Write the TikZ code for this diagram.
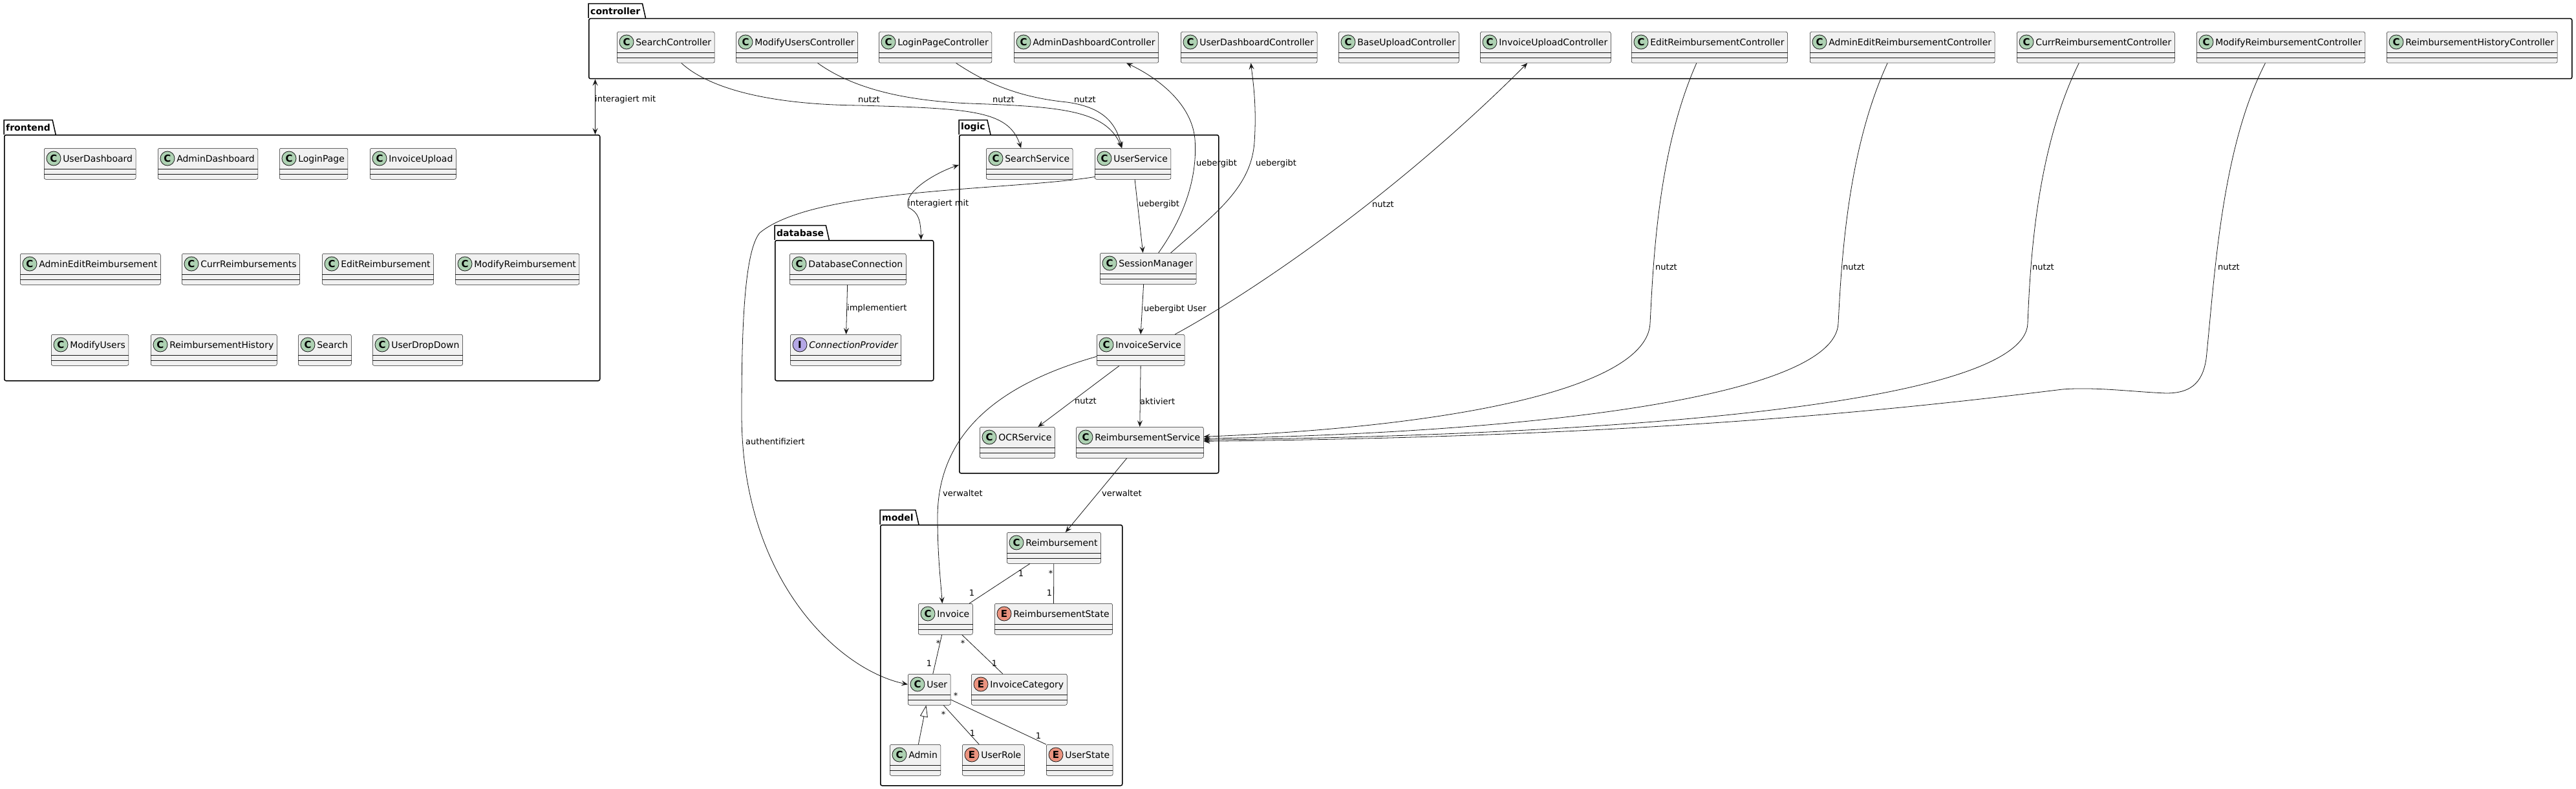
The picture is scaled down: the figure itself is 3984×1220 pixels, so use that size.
\documentclass[tikz,border=0pt]{standalone}
\usepackage{fontspec}
\setmainfont{DejaVu Sans}
\usetikzlibrary{arrows.meta}

\definecolor{clsfill}{HTML}{F1F1F1}
\definecolor{clsline}{HTML}{181818}
\definecolor{spotC}{HTML}{ADD1B2}
\definecolor{spotE}{HTML}{EB937F}
\definecolor{spotI}{HTML}{B4A7E5}

\tikzset{
  classbox/.style={draw=clsline, line width=0.5pt, fill=clsfill, rounded corners=2.5pt, anchor=north west,
    inner xsep=5pt, inner ysep=0pt, text height=21pt, text depth=27pt, font=\fontsize{14pt}{16pt}\selectfont},
  spot/.style={circle, draw=clsline, line width=0.8pt, minimum size=22pt, inner sep=0pt,
    font=\fontsize{15pt}{15pt}\selectfont\bfseries},
  pkgbody/.style={draw=black, line width=1.5pt, rounded corners=2.5pt, anchor=north west, inner sep=0pt},
  pkgtab/.style={anchor=south west, inner xsep=3pt, inner ysep=0pt, minimum height=22pt,
    font=\fontsize{14pt}{16pt}\selectfont\bfseries},
  lbl/.style={anchor=west, inner sep=0pt, font=\fontsize{13pt}{15pt}\selectfont},
  mult/.style={inner sep=0pt, font=\fontsize{13pt}{15pt}\selectfont},
  dep/.style={draw=clsline, line width=0.8pt, -{Stealth[length=10pt,width=8pt,inset=4pt]}},
  twoway/.style={draw=clsline, line width=0.8pt,
    {Stealth[length=10pt,width=8pt,inset=4pt]}-{Stealth[length=10pt,width=8pt,inset=4pt]}},
  assoc/.style={draw=clsline, line width=0.8pt},
  extends/.style={draw=clsline, line width=0.8pt, -{Triangle[length=18pt,width=12pt,fill=white]}}
}

% class box: name, x, y, text, spot colour, spot letter
\newcommand{\umlbox}[6]{%
  \node[classbox] (#1) at (#2,#3) {\hspace*{24pt}#4};
  \draw[clsline, line width=0.5pt] ([yshift=-32pt]#1.north west) -- ([yshift=-32pt]#1.north east)
    ([yshift=-40pt]#1.north west) -- ([yshift=-40pt]#1.north east);
  \node[spot, fill=#5] (#1Spot) at ([xshift=15pt,yshift=-16pt]#1.north west) {#6};
}
\newcommand{\umlclass}[4]{\umlbox{#1}{#2}{#3}{#4}{spotC}{C}}
\newcommand{\umlenum}[4]{\umlbox{#1}{#2}{#3}{#4}{spotE}{E}}
\newcommand{\umliface}[4]{\umlbox{#1}{#2}{#3}{\itshape #4}{spotI}{I}}

% package: name, x, y (body top), width, height, label
\newcommand{\umlpkg}[6]{%
  \node[pkgbody, minimum width=#4pt, minimum height=#5pt] (#1) at (#2,#3) {};
  \node[pkgtab] (#1Tab) at (#1.north west) {#6};
  \draw[black, line width=1.5pt] (#1.north west) |- (#1Tab.north east) -- ([xshift=5pt]#1Tab.south east);
}

\begin{document}
\begin{tikzpicture}[x=1pt, y=-1pt]
  \useasboundingbox (0,0) rectangle (3984,1220);

  % packages
  \umlpkg{controller}{910}{28}{3067}{93}{controller}
  \umlpkg{frontend}{6}{208}{921}{380}{frontend}
  \umlpkg{logic}{1483}{208}{401}{523}{logic}
  \umlpkg{database}{1198}{371}{245}{217}{database}
  \umlpkg{model}{1361}{811}{374}{403}{model}

  % controller
  \umlclass{SearchC}{954}{49}{SearchController}
  \umlclass{ModUsersC}{1138}{49}{ModifyUsersController}
  \umlclass{LoginC}{1359}{49}{LoginPageController}
  \umlclass{AdminDashC}{1568}{49}{AdminDashboardController}
  \umlclass{UserDashC}{1826}{49}{UserDashboardController}
  \umlclass{BaseUpC}{2070}{49}{BaseUploadController}
  \umlclass{InvUpC}{2289}{49}{InvoiceUploadController}
  \umlclass{EditRC}{2523}{49}{EditReimbursementController}
  \umlclass{AdminEditRC}{2799}{49}{AdminEditReimbursementController}
  \umlclass{CurrRC}{3119}{49}{CurrReimbursementController}
  \umlclass{ModRC}{3397}{49}{ModifyReimbursementController}
  \umlclass{HistRC}{3691}{49}{ReimbursementHistoryController}

  % frontend
  \umlclass{UserDash}{68}{229}{UserDashboard}
  \umlclass{AdminDash}{244}{229}{AdminDashboard}
  \umlclass{LoginP}{432}{229}{LoginPage}
  \umlclass{InvUp}{572}{229}{InvoiceUpload}
  \umlclass{AdminEditR}{31}{392}{AdminEditReimbursement}
  \umlclass{CurrR}{281}{392}{CurrReimbursements}
  \umlclass{EditR}{498}{392}{EditReimbursement}
  \umlclass{ModR}{704}{392}{ModifyReimbursement}
  \umlclass{ModUsers}{79}{517}{ModifyUsers}
  \umlclass{HistR}{233}{517}{ReimbursementHistory}
  \umlclass{SearchF}{461}{517}{Search}
  \umlclass{UserDrop}{576}{517}{UserDropDown}

  % logic
  \umlclass{SearchS}{1525}{229}{SearchService}
  \umlclass{UserS}{1693}{229}{UserService}
  \umlclass{SessionM}{1701}{391}{SessionManager}
  \umlclass{InvoiceS}{1696}{517}{InvoiceService}
  \umlclass{OCRS}{1515}{660}{OCRService}
  \umlclass{ReimbS}{1664}{660}{ReimbursementService}

  % database
  \umlclass{DBConn}{1221}{392}{DatabaseConnection}
  \umliface{ConnProv}{1222}{517}{ConnectionProvider}

  % model
  \umlclass{Reimb}{1557}{823}{Reimbursement}
  \umlclass{Invoice}{1420}{933}{Invoice}
  \umlenum{ReimbState}{1538}{933}{ReimbursementState}
  \umlclass{User}{1404}{1042}{User}
  \umlenum{InvCat}{1502}{1042}{InvoiceCategory}
  \umlclass{Admin}{1376}{1151}{Admin}
  \umlenum{UserRole}{1488}{1151}{UserRole}
  \umlenum{UserState}{1618}{1151}{UserState}

  % controller <-> frontend
  \coordinate (feLink) at ([xshift=-8pt]frontend.north east);
  \draw[twoway] (feLink |- controller.south) -- (feLink);
  \node[lbl] (lblFe) at (920,154) {interagiert mit};

  % controller -> logic
  \draw[dep] ([xshift=24pt]SearchC.south) .. controls (1100,140) and (1200,162) .. (1330,163)
    .. controls (1500,168) and (1560,170) .. ([xshift=-13pt]SearchS.north);
  \draw[dep] ([xshift=32pt]ModUsersC.south) .. controls (1310,130) and (1380,155) .. (1500,160)
    .. controls (1640,165) and (1710,170) .. ([xshift=-17pt]UserS.north);
  \draw[dep] ([xshift=32pt]LoginC.south) .. controls (1520,125) and (1570,150) .. (1650,158)
    .. controls (1700,165) and (1725,185) .. ([xshift=-17pt]UserS.north);
  \node[lbl] (lblSearch) at (1327,154) {nutzt};
  \node[lbl] (lblModUsers) at (1535,154) {nutzt};
  \node[lbl] (lblLogin) at (1661,154) {nutzt};

  % logic -> controller
  \draw[dep] ([xshift=16pt]SessionM.north) .. controls (1835,330) and (1852,270) .. (1848,215)
    .. controls (1843,160) and (1790,120) .. ([xshift=62pt]AdminDashC.south);
  \draw[dep] ([xshift=35pt]SessionM.north) .. controls (1880,330) and (1935,290) .. (1940,220)
    .. controls (1944,160) and (1937,120) .. ([xshift=3pt]UserDashC.south);
  \draw[dep] ([xshift=53pt]InvoiceS.north) .. controls (1940,450) and (2160,300) .. ([xshift=-28pt]InvUpC.south);
  \node[lbl] (lblAdminDash) at (1850,253) {uebergibt};
  \node[lbl] (lblUserDash) at (1942,253) {uebergibt};
  \node[lbl] (lblInvUp) at (2122,316) {nutzt};

  % reimbursement controllers -> ReimbursementService
  \draw[dep] ([xshift=-20pt]EditRC.south) .. controls (2565,230) and (2557,400) .. (2552,500)
    .. controls (2547,600) and (2250,660) .. ([yshift=9pt]ReimbS.east);
  \draw[dep] ([xshift=-23pt]AdminEditRC.south) .. controls (2858,230) and (2848,400) .. (2843,500)
    .. controls (2838,610) and (2400,668) .. ([yshift=6pt]ReimbS.east);
  \draw[dep] ([xshift=-26pt]CurrRC.south) .. controls (3150,230) and (3140,400) .. (3136,500)
    .. controls (3132,620) and (2550,672) .. ([yshift=4pt]ReimbS.east);
  \draw[dep] ([xshift=-24pt]ModRC.south) .. controls (3435,230) and (3425,430) .. (3412,555)
    .. controls (3406,595) and (3385,608) .. (3350,608)
    .. controls (3300,606) and (3240,598) .. (3190,602)
    .. controls (3000,625) and (2600,675) .. ([yshift=2pt]ReimbS.east);
  \node[lbl] (lblEditR) at (2560,413) {nutzt};
  \node[lbl] (lblAdminEditR) at (2850,413) {nutzt};
  \node[lbl] (lblCurrR) at (3143,413) {nutzt};
  \node[lbl] (lblModR) at (3430,413) {nutzt};

  % inside logic
  \draw[dep] ([xshift=3pt]UserS.south) -- ([xshift=-8pt]SessionM.north);
  \draw[dep] ([xshift=-7pt]SessionM.south) -- (InvoiceS.north);
  \draw[dep] ([xshift=-33pt]InvoiceS.south) -- ([xshift=32pt]OCRS.north);
  \draw[dep] (InvoiceS.south) -- (ReimbS.north);
  \node[lbl] (lblSession) at (1761,316) {uebergibt};
  \node[lbl] (lblInvS) at (1769,478) {uebergibt User};
  \node[lbl] (lblOCR) at (1662,620) {nutzt};
  \node[lbl] (lblReimbS) at (1763,621) {aktiviert};

  % logic <-> database
  \draw[twoway] ([yshift=-47pt]logic.north west) .. controls (1440,270) and (1395,300) .. (1405,321)
    .. controls (1420,328) and (1424,340) .. ([xshift=-20pt]database.north east);
  \node[lbl] (lblDb) at (1404,315) {interagiert mit};
  \draw[dep] (DBConn) -- (ConnProv);
  \node[lbl] (lblImpl) at (1310,477) {implementiert};

  % logic -> model
  \draw[dep] ([yshift=4pt]UserS.south west) .. controls (1560,295) and (1260,290) .. (1175,360)
    .. controls (1150,390) and (1147,520) .. (1147,640)
    .. controls (1147,900) and (1300,1037) .. ([yshift=8pt]User.west);
  \node[lbl] (lblAuth) at (1153,683) {authentifiziert};
  \draw[dep] ([yshift=-10pt]InvoiceS.west) .. controls (1560,590) and (1450,660) .. (1450,800)
    .. controls (1450,860) and (1455,900) .. ([xshift=-5pt]Invoice.north);
  \node[lbl] (lblInvoice) at (1458,763) {verwaltet};
  \draw[dep] ([xshift=-20pt]ReimbS.south) -- ([xshift=18pt]Reimb.north);
  \node[lbl] (lblReimb) at (1704,763) {verwaltet};

  % model associations
  \draw[assoc] (Reimb) -- (Invoice);
  \draw[assoc] (Reimb) -- (ReimbState);
  \draw[assoc] (Invoice) -- (User);
  \draw[assoc] (Invoice) -- (InvCat);
  \draw[assoc] (User) -- (UserRole);
  \draw[assoc] (User) -- (UserState);
  \draw[extends] (Admin) -- (User);
  \node[mult] (mReimbInv) at (1579,887) {1};
  \node[mult] (mInvReimb) at (1503,917) {1};
  \node[mult] (mReimbSt) at (1625,887) {*};
  \node[mult] (mStReimb) at (1623,917) {1};
  \node[mult] (mInvUser) at (1451,995) {*};
  \node[mult] (mUserInv) at (1437,1026) {1};
  \node[mult] (mInvCat) at (1489,995) {*};
  \node[mult] (mCatInv) at (1538,1026) {1};
  \node[mult] (mUserRole) at (1459,1105) {*};
  \node[mult] (mRoleUser) at (1504,1134) {1};
  \node[mult] (mUserSt) at (1478,1076) {*};
  \node[mult] (mStUser) at (1606,1138) {1};
\end{tikzpicture}
\end{document}
